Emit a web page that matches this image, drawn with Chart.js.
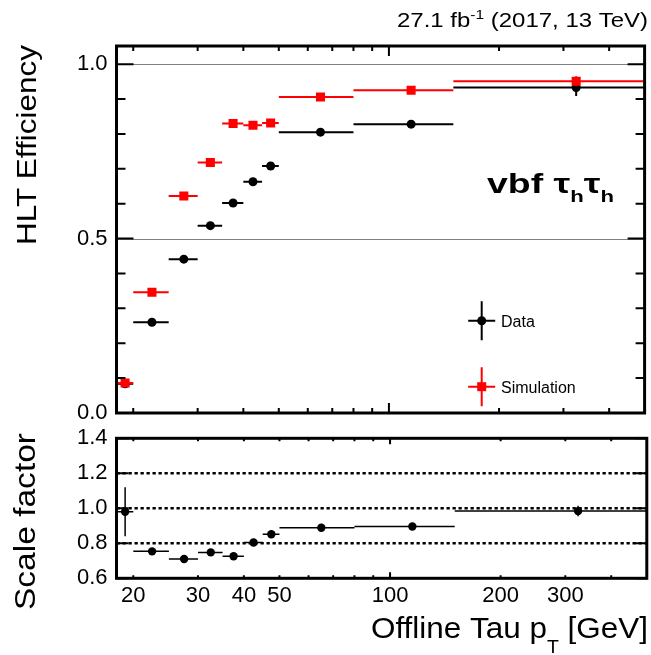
<!DOCTYPE html>
<html>
<head>
<meta charset="utf-8">
<script src="https://cdn.jsdelivr.net/npm/chart.js@4"></script>
<style>
html, body { margin: 0; padding: 0; background: #fff; }
#wrap { position: relative; width: 651px; height: 655px; }
canvas { position: absolute; left: 0; }
#effChart { top: 0; }
#sfChart { top: 425px; }
</style>
</head>
<body>
<div id="wrap">
<canvas id="effChart" width="651" height="425"></canvas>
<canvas id="sfChart" width="651" height="230"></canvas>
</div>
<script>
// pT bins (GeV)
const binLow = [18, 20, 25, 30, 35, 40, 45, 50, 80, 150]
const binHigh = [20, 25, 30, 35, 40, 45, 50, 80, 150, 500]
const binCenter = [19, 22.5, 27.5, 32.5, 37.5, 42.5, 47.5, 65, 115, 325]

// HLT efficiency, data and simulation
const dataEff = [0.084, 0.260, 0.441, 0.537, 0.602, 0.663, 0.708, 0.805, 0.828, 0.933]
const dataErr = [0.012, 0.006, 0.006, 0.006, 0.006, 0.006, 0.006, 0.004, 0.006, 0.024]
const simEff = [0.086, 0.346, 0.622, 0.718, 0.830, 0.825, 0.831, 0.906, 0.925, 0.951]
const simErr = [0.006, 0.004, 0.004, 0.004, 0.004, 0.004, 0.004, 0.003, 0.004, 0.014]

// scale factor data/simulation
const sfVal = [0.980, 0.754, 0.710, 0.748, 0.726, 0.805, 0.852, 0.889, 0.896, 0.984]
const sfErr = [0.140, 0.012, 0.012, 0.012, 0.012, 0.012, 0.012, 0.008, 0.012, 0.030]

// ticks
const effTicks = [0, 0.5, 1.0]
const effMinorTicks = [0.1, 0.2, 0.3, 0.4, 0.6, 0.7, 0.8, 0.9]
const sfTicks = [0.6, 0.8, 1.0, 1.2, 1.4]
const xTicks = [20, 30, 40, 50, 60, 70, 80, 90, 100, 200, 300, 400]
const xMajorTicks = [100]
const xLabels = [20, 30, 40, 50, 100, 200, 300]
const effGrid = [0.5, 1.0]
const sfGrid = [0.8, 1.0, 1.2]

const FONT = "'Liberation Sans', Arial, Helvetica, sans-serif"

const hBars = (vals) => vals.flatMap((v, i) => [{x: binLow[i], y: v}, {x: binHigh[i], y: v}, {x: binHigh[i], y: null}])
const vBars = (vals, errs) => vals.flatMap((v, i) => [{x: binCenter[i], y: v - errs[i]}, {x: binCenter[i], y: v + errs[i]}, {x: binCenter[i], y: null}])
const points = (vals) => vals.map((v, i) => ({x: binCenter[i], y: v}))

const barSet = (data, color, width, order) => ({
    data: data, showLine: true, borderColor: color, borderWidth: width,
    pointRadius: 0, pointHitRadius: 0, spanGaps: false, fill: false, order: order
})
const pointSet = (data, color, style, radius, order) => ({
    data: data, showLine: false, pointStyle: style, pointRadius: radius,
    backgroundColor: color, borderColor: color, pointBorderWidth: 0, order: order
})

// text with sub/superscripts, stretched to a target ink length
function drawRich(ctx, parts, x, y, align, target, rotate) {
    ctx.save()
    let total = 0
    parts.forEach(p => { ctx.font = p.font; p.w = ctx.measureText(p.t).width; total += p.w })
    const sx = target ? target / total : 1
    ctx.translate(x, y)
    if (rotate) ctx.rotate(-Math.PI / 2)
    ctx.scale(sx, 1)
    let cx = align === 'right' ? -total : 0
    ctx.fillStyle = '#000'
    ctx.textAlign = 'left'
    ctx.textBaseline = 'alphabetic'
    parts.forEach(p => {
        ctx.font = p.font
        ctx.fillText(p.t, cx, p.dy || 0)
        cx += p.w
    })
    ctx.restore()
}

const framePlugin = {
    id: 'frame',
    beforeDatasetsDraw(chart, args, o) {
        const ctx = chart.ctx, a = chart.chartArea, ys = chart.scales.y
        ctx.save()
        ctx.strokeStyle = '#000'
        ctx.lineWidth = o.gridWidth
        ctx.setLineDash(o.gridDash)
        o.grid.forEach(v => {
            let py = ys.getPixelForValue(v)
            if (o.gridWidth < 2) py = Math.round(py) + 0.5
            ctx.beginPath(); ctx.moveTo(a.left, py); ctx.lineTo(a.right, py); ctx.stroke()
        })
        ctx.restore()
    },
    afterDatasetsDraw(chart, args, o) {
        const ctx = chart.ctx, a = chart.chartArea, xs = chart.scales.x, ys = chart.scales.y
        ctx.save()
        ctx.strokeStyle = '#000'
        ctx.lineWidth = 2
        const tick = (v, len, horizontal) => {
            ctx.beginPath()
            if (horizontal) {
                const py = ys.getPixelForValue(v)
                ctx.moveTo(a.left, py); ctx.lineTo(a.left + len, py)
                ctx.moveTo(a.right, py); ctx.lineTo(a.right - len, py)
            } else {
                const px = xs.getPixelForValue(v)
                ctx.moveTo(px, a.bottom); ctx.lineTo(px, a.bottom - len)
                ctx.moveTo(px, a.top); ctx.lineTo(px, a.top + len)
            }
            ctx.stroke()
        }
        o.yMajor.forEach(v => tick(v, o.yMajorLen, true))
        o.yMinor.forEach(v => tick(v, o.yMinorLen, true))
        xTicks.forEach(v => tick(v, xMajorTicks.includes(v) ? o.xMajorLen : o.xMinorLen, false))
        ctx.lineWidth = 3
        ctx.strokeRect(a.left, a.top, a.right - a.left, a.bottom - a.top)
        ctx.restore()
        if (o.texts) o.texts(ctx)
    }
}

function effTexts(ctx) {
    drawRich(ctx, [
        {t: '27.1 fb', font: '20px ' + FONT},
        {t: '-1', font: '13px ' + FONT, dy: -8},
        {t: ' (2017, 13 TeV)', font: '20px ' + FONT}
    ], 648, 26.5, 'right', 251)
    drawRich(ctx, [
        {t: 'vbf \u03c4', font: 'bold 27px ' + FONT},
        {t: 'h', font: 'bold 16px ' + FONT, dy: 8.5},
        {t: '\u03c4', font: 'bold 27px ' + FONT},
        {t: 'h', font: 'bold 16px ' + FONT, dy: 8.5}
    ], 487, 193, 'left', 127)
    drawRich(ctx, [{t: 'HLT Efficiency', font: '28px ' + FONT}], 36, 45, 'right', 200, true)

    // legend
    const leg = [
        {label: 'Data', color: '#000', y: 320.7, style: 'circle', textY: 327},
        {label: 'Simulation', color: '#f00', y: 386.7, style: 'rect', textY: 392.7}
    ]
    ctx.save()
    leg.forEach(l => {
        const cx = 481.7
        ctx.strokeStyle = l.color; ctx.fillStyle = l.color; ctx.lineWidth = 2
        ctx.beginPath()
        ctx.moveTo(cx, l.y - 19.5); ctx.lineTo(cx, l.y + 19.5)
        ctx.moveTo(cx - 13.5, l.y); ctx.lineTo(cx + 13.5, l.y)
        ctx.stroke()
        ctx.beginPath()
        if (l.style === 'circle') ctx.arc(cx, l.y, 4.5, 0, Math.PI * 2)
        else ctx.rect(cx - 4.5, l.y - 4.5, 9, 9)
        ctx.fill()
        ctx.fillStyle = '#000'
        ctx.font = '16px ' + FONT
        ctx.textAlign = 'left'
        ctx.fillText(l.label, 501, l.textY)
    })
    ctx.restore()
}

function sfTexts(ctx) {
    drawRich(ctx, [{t: 'Scale factor', font: '30px ' + FONT}], 35, 433 - 425, 'right', 177, true)
    drawRich(ctx, [
        {t: 'Offline Tau p', font: '29px ' + FONT},
        {t: 'T', font: '18px ' + FONT, dy: 15},
        {t: ' [GeV]', font: '29px ' + FONT}
    ], 648, 637.7 - 425, 'right', 277)
}

const noPad = s => { s.paddingTop = 0; s.paddingBottom = 0; s.paddingLeft = 0; s.paddingRight = 0 }

const xScale = (showLabels, height) => ({
    type: 'logarithmic', min: 18, max: 500,
    grid: {display: false, drawTicks: false}, border: {display: false},
    afterBuildTicks: s => { s.ticks = xTicks.map(v => ({value: v})) },
    afterFit: s => { s.height = height; noPad(s) },
    ticks: {
        display: showLabels, autoSkip: false, maxRotation: 0, minRotation: 0, padding: 4,
        color: '#000', font: {family: FONT, size: 22},
        callback: v => xLabels.includes(v) ? String(v) : ''
    }
})
const yScale = (min, max, tickVals) => ({
    type: 'linear', min: min, max: max,
    grid: {display: false, drawTicks: false}, border: {display: false},
    afterBuildTicks: s => { s.ticks = tickVals.map(v => ({value: v})) },
    afterFit: s => { s.width = 116.5; noPad(s) },
    ticks: {padding: 9, color: '#000', font: {family: FONT, size: 22}, callback: v => v.toFixed(1)}
})

const common = {
    responsive: false, animation: false, devicePixelRatio: 1,
    events: []
}

new Chart(document.getElementById('effChart'), {
    type: 'scatter',
    data: {datasets: [
        pointSet(points(simEff), '#f00', 'rect', 6.4, 0),
        barSet(hBars(simEff), '#f00', 2, 1),
        barSet(vBars(simEff, simErr), '#f00', 2, 1),
        pointSet(points(dataEff), '#000', 'circle', 4.5, 2),
        barSet(hBars(dataEff), '#000', 2, 3),
        barSet(vBars(dataEff, dataErr), '#000', 2, 3)
    ]},
    options: Object.assign({}, common, {
        layout: {padding: {top: 46, right: 3, bottom: 12, left: 0}},
        scales: {x: xScale(false, 0), y: yScale(0, 1.052, effTicks)},
        plugins: {
            legend: {display: false}, tooltip: {enabled: false},
            frame: {
                grid: effGrid, gridWidth: 1, gridDash: [1, 1],
                yMajor: effTicks, yMinor: effMinorTicks, yMajorLen: 17, yMinorLen: 9,
                xMajorLen: 10, xMinorLen: 5, texts: effTexts
            }
        }
    }),
    plugins: [framePlugin]
})

new Chart(document.getElementById('sfChart'), {
    type: 'scatter',
    data: {datasets: [
        pointSet(points(sfVal), '#000', 'circle', 4.2, 0),
        barSet(hBars(sfVal), '#000', 1.5, 1),
        barSet(vBars(sfVal, sfErr), '#000', 1.5, 1)
    ]},
    options: Object.assign({}, common, {
        layout: {padding: {top: 13.3, right: 3, bottom: 0, left: 0}},
        scales: {x: xScale(true, 76.7), y: yScale(0.6, 1.4, sfTicks)},
        plugins: {
            legend: {display: false}, tooltip: {enabled: false},
            frame: {
                grid: sfGrid, gridWidth: 2.5, gridDash: [3.3, 2.7],
                yMajor: sfTicks, yMinor: [], yMajorLen: 12, yMinorLen: 0,
                xMajorLen: 6, xMinorLen: 3, texts: sfTexts
            }
        }
    }),
    plugins: [framePlugin]
})
</script>
</body>
</html>
